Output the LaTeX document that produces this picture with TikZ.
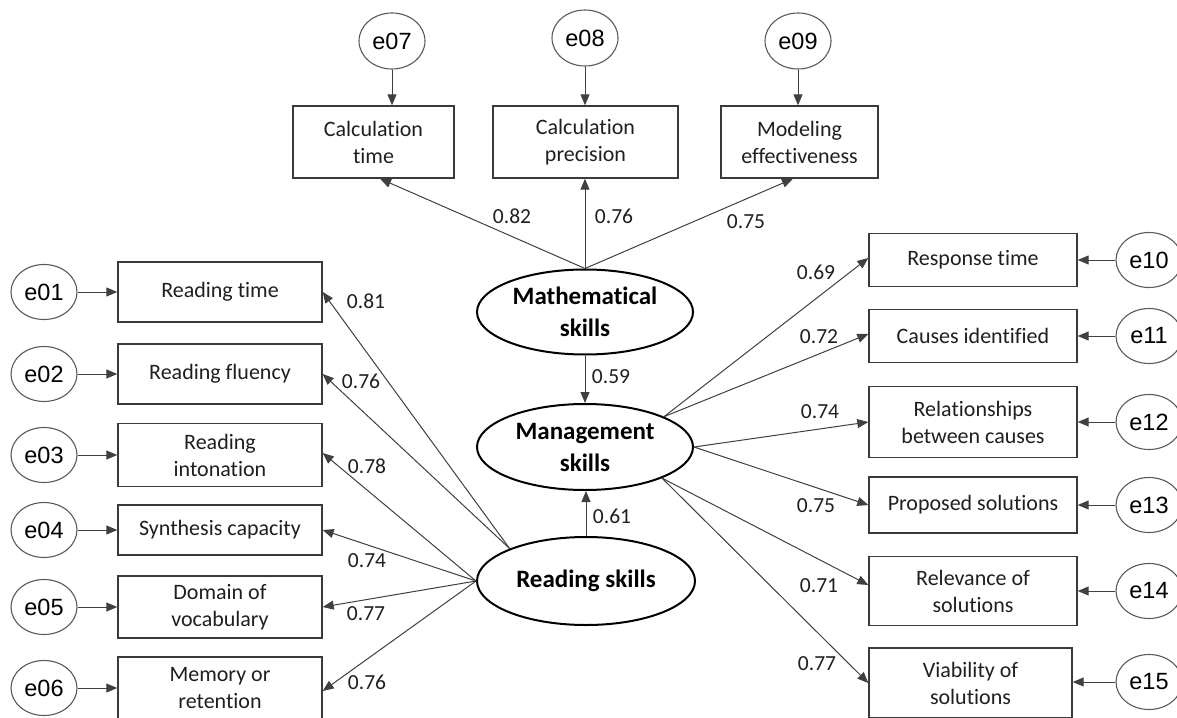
\documentclass[tikz,border=0pt]{standalone}
\usepackage{fontspec}
\setmainfont{Carlito}[Ligatures=NoCommon]
\newfontfamily\arialf{Liberation Sans}
\usetikzlibrary{arrows.meta,shapes.geometric}
\definecolor{edgecol}{HTML}{404040}
\definecolor{boxline}{HTML}{3A3A3A}
\definecolor{errline}{HTML}{5A5A5A}
\tikzset{
 obs/.style={draw=boxline, line width=1.4pt, rectangle, inner sep=0pt, align=center,
   font=\fontsize{22}{27}\selectfont, text=black!88},
 err/.style={draw=errline, line width=1.1pt, ellipse, inner sep=0pt, minimum width=66pt,
   minimum height=55pt, font=\arialf\fontsize{23.5}{28}\selectfont},
 lat/.style={draw=black, line width=2pt, ellipse, inner sep=0pt, align=center,
   font=\fontsize{25}{32}\selectfont\bfseries},
 lbl/.style={inner sep=0pt, font=\fontsize{21.5}{26}\selectfont, text=black!88},
 conn/.style={draw=edgecol, line width=1pt, -{Triangle[length=11pt,width=9pt]}},
}
\begin{document}
\begin{tikzpicture}[x=1pt,y=-1pt]
\clip (0,0) rectangle (1177,717);
\fill[white] (0,0) rectangle (1177,717);

% latent variables
\node[lat, minimum width=216pt, minimum height=85pt] (M) at (585,312) {Mathematical\\skills};
\node[lat, minimum width=216pt, minimum height=86pt] (G) at (585,447) {Management\\skills};
\node[lat, minimum width=218pt, minimum height=88pt] (R) at (586,581) {Reading skills};

% top indicators
\node[obs, minimum width=161pt, minimum height=72pt] (t1) at (373.5,142) {Calculation\\time};
\node[obs, minimum width=185pt, minimum height=72pt] (t2) at (585.5,142) {Calculation\\precision};
\node[obs, minimum width=157pt, minimum height=72pt] (t3) at (799.5,142) {Modeling\\effectiveness};
\node[err, minimum height=56pt] (e07) at (392,41) {e07};
\node[err, minimum height=56pt] (e08) at (585,38) {e08};
\node[err, minimum height=56pt] (e09) at (798,41) {e09};

% left indicators
\node[obs, minimum width=204pt, minimum height=60pt] (b1) at (220,292) {Reading time};
\node[obs, minimum width=204pt, minimum height=60pt] (b2) at (220,374) {Reading fluency};
\node[obs, minimum width=204pt, minimum height=63pt] (b3) at (220,455) {Reading\\intonation};
\node[obs, minimum width=204pt, minimum height=50pt] (b4) at (220,530) {Synthesis capacity};
\node[obs, minimum width=204pt, minimum height=62pt] (b5) at (220,607) {Domain of\\vocabulary};
\node[obs, minimum width=204pt, minimum height=62pt] (b6) at (220,688) {Memory or\\retention};
\node[err] (e01) at (44,292) {e01};
\node[err] (e02) at (44,374) {e02};
\node[err] (e03) at (44,455) {e03};
\node[err] (e04) at (44,530) {e04};
\node[err] (e05) at (44,607) {e05};
\node[err] (e06) at (44,688) {e06};

% right indicators
\node[obs, minimum width=208pt, minimum height=53pt] (r1) at (973,260) {Response time};
\node[obs, minimum width=208pt, minimum height=53pt] (r2) at (973,336) {Causes identified};
\node[obs, minimum width=208pt, minimum height=71pt] (r3) at (973,422) {Relationships\\between causes};
\node[obs, minimum width=208pt, minimum height=56pt] (r4) at (973,505) {Proposed solutions};
\node[obs, minimum width=208pt, minimum height=69pt] (r5) at (973,591) {Relevance of\\solutions};
\node[obs, minimum width=203pt, minimum height=70pt] (r6) at (970.5,683) {Viability of\\solutions};
\node[err] (e10) at (1149,260) {e10};
\node[err] (e11) at (1149,336) {e11};
\node[err] (e12) at (1149,422) {e12};
\node[err] (e13) at (1149,505) {e13};
\node[err] (e14) at (1149,591) {e14};
\node[err] (e15) at (1149,682) {e15};

% error arrows
\draw[conn] (e07.south) -- (e07.south |- t1.north);
\draw[conn] (e08.south) -- (e08.south |- t2.north);
\draw[conn] (e09.south) -- (e09.south |- t3.north);
\foreach \i in {1,...,6} {\draw[conn] (e0\i.east) -- (e0\i.east -| b\i.west);}
\draw[conn] (e10.west) -- (e10.west -| r1.east);
\draw[conn] (e11.west) -- (e11.west -| r2.east);
\draw[conn] (e12.west) -- (e12.west -| r3.east);
\draw[conn] (e13.west) -- (e13.west -| r4.east);
\draw[conn] (e14.west) -- (e14.west -| r5.east);
\draw[conn] (e15.west) -- (e15.west -| r6.east);

% loadings: mathematical
\draw[conn] (M.north) -- ([xshift=6.5pt]t1.south);
\draw[conn] (M.north) -- (M.north |- t2.south);
\draw[conn] (M.north) -- ([xshift=-6.5pt]t3.south);
% structural
\draw[conn] (M.south) -- (M.south |- G.north);
\draw[conn] (R.north) -- (R.north |- G.south);
% loadings: reading
\draw[conn] (R.157) -- (b1.east);
\draw[conn] (R.157) -- (b2.east);
\draw[conn] (R.west) -- ([yshift=2pt]b3.east);
\draw[conn] (R.west) -- (b4.east);
\draw[conn] (R.west) -- (b5.east);
\draw[conn] (R.west) -- ([yshift=-3pt]b6.east);
% loadings: management
\draw[conn] (G.21) -- ([yshift=2pt]r1.west);
\draw[conn] (G.21) -- ([yshift=2pt]r2.west);
\draw[conn] (G.east) -- (r3.west);
\draw[conn] (G.east) -- (r4.west);
\draw[conn] (G.-22) -- ([yshift=6pt]r5.west);
\draw[conn] (G.-22) -- (r6.west);

% labels
\node[lbl] (l07) at (512,216) {0.82};
\node[lbl] (l08) at (614,216) {0.76};
\node[lbl] (l09) at (746,222) {0.75};
\node[lbl] (lmg) at (611,377) {0.59};
\node[lbl] (lrg) at (612,516) {0.61};
\node[lbl] (l01) at (366,301) {0.81};
\node[lbl] (l02) at (361,381) {0.76};
\node[lbl] (l03) at (367,466) {0.78};
\node[lbl] (l04) at (367,561) {0.74};
\node[lbl] (l05) at (366,614) {0.77};
\node[lbl] (l06) at (367,682) {0.76};
\node[lbl] (l10) at (816,272) {0.69};
\node[lbl] (l11) at (819,337) {0.72};
\node[lbl] (l12) at (820,412) {0.74};
\node[lbl] (l13) at (816,506) {0.75};
\node[lbl] (l14) at (819,586) {0.71};
\node[lbl] (l15) at (817,664) {0.77};
\end{tikzpicture}
\end{document}
